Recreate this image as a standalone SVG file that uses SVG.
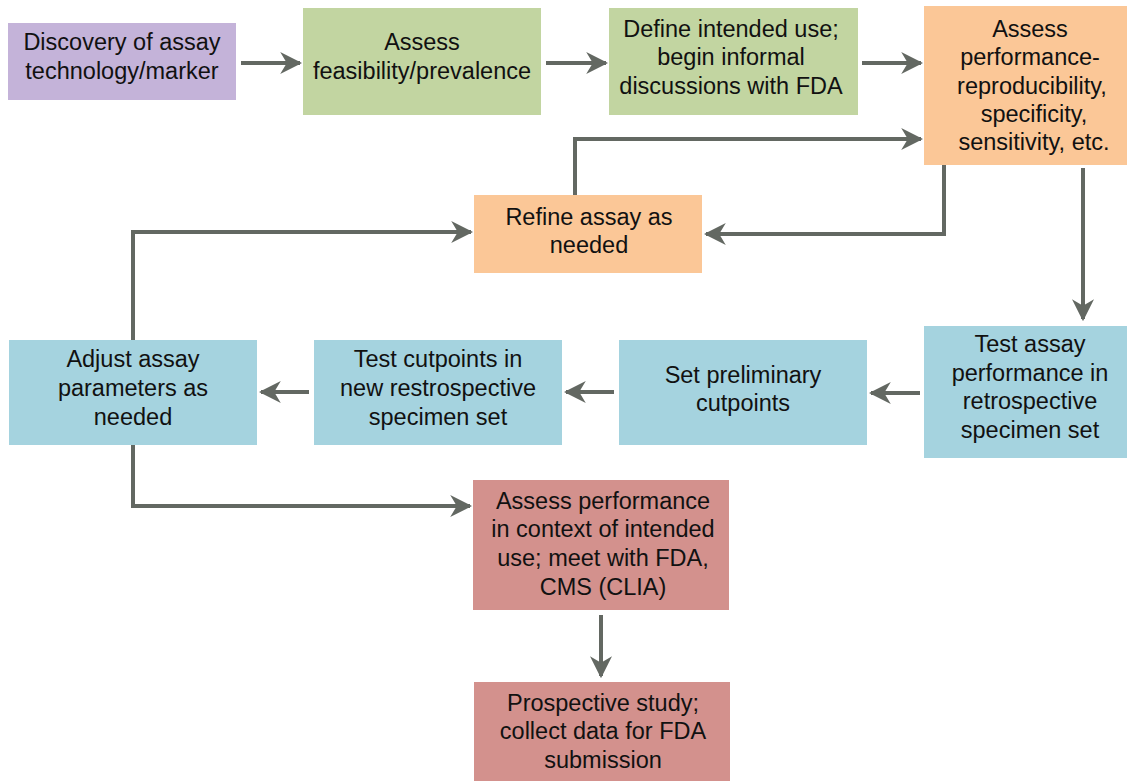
<svg xmlns="http://www.w3.org/2000/svg" width="1127" height="781" viewBox="0 0 1127 781">
<defs>
<style>
text{font-family:"Liberation Sans",Arial,sans-serif;font-size:23.5px;fill:#111;text-anchor:middle}
.c{fill:none;stroke:#636862;stroke-width:4}
.p{fill:#c4b3d9}.g{fill:#c2d5a1}.o{fill:#fbc797}.b{fill:#a5d3df}.r{fill:#d3918d}
</style>
<marker id="ah" viewBox="0 0 10 10" refX="9" refY="5" markerWidth="5.5" markerHeight="5.5" orient="auto" markerUnits="strokeWidth">
<path d="M0,0 L10,5 L0,10 L3,5 Z" fill="#636862"/>
</marker>
</defs>
<rect width="1127" height="781" fill="#fff"/>
<g id="connectors">
<path class="c" d="M241,63 H300" marker-end="url(#ah)"/>
<path class="c" d="M546,63 H606" marker-end="url(#ah)"/>
<path class="c" d="M862,63 H921" marker-end="url(#ah)"/>
<path class="c" d="M575,195 V139 H921" marker-end="url(#ah)"/>
<path class="c" d="M944,165 V234 H706" marker-end="url(#ah)"/>
<path class="c" d="M1083,168 V319" marker-end="url(#ah)"/>
<path class="c" d="M920,393 H871" marker-end="url(#ah)"/>
<path class="c" d="M614,392 H566" marker-end="url(#ah)"/>
<path class="c" d="M309,392 H261" marker-end="url(#ah)"/>
<path class="c" d="M133,340 V232 H471" marker-end="url(#ah)"/>
<path class="c" d="M133,445 V506 H470" marker-end="url(#ah)"/>
<path class="c" d="M601,615 V676" marker-end="url(#ah)"/>
</g>
<g id="n1"><rect class="p" x="8" y="23" width="228" height="77"/><text x="122" y="50">Discovery of assay</text><text x="122" y="79">technology/marker</text></g>
<g id="n2"><rect class="g" x="303" y="8" width="238" height="107"/><text x="422" y="50">Assess</text><text x="422" y="79">feasibility/prevalence</text></g>
<g id="n3"><rect class="g" x="609" y="8" width="249" height="107"/><text x="731" y="37">Define intended use;</text><text x="731" y="65">begin informal</text><text x="731" y="94">discussions with FDA</text></g>
<g id="n4"><rect class="o" x="924" y="6" width="203" height="159"/><text x="1030" y="37">Assess</text><text x="1030" y="65">performance-</text><text x="1032" y="94">reproducibility,</text><text x="1034" y="122">specificity,</text><text x="1034" y="150">sensitivity, etc.</text></g>
<g id="n5"><rect class="o" x="474" y="195" width="228" height="78"/><text x="589" y="225">Refine assay as</text><text x="589" y="253">needed</text></g>
<g id="n6"><rect class="b" x="924" y="326" width="203" height="132"/><text x="1030" y="352">Test assay</text><text x="1030" y="381">performance in</text><text x="1030" y="409">retrospective</text><text x="1030" y="438">specimen set</text></g>
<g id="n7"><rect class="b" x="619" y="340" width="248" height="105"/><text x="743" y="383">Set preliminary</text><text x="743" y="411">cutpoints</text></g>
<g id="n8"><rect class="b" x="314" y="340" width="248" height="105"/><text x="438" y="367">Test cutpoints in</text><text x="438" y="396">new restrospective</text><text x="438" y="425">specimen set</text></g>
<g id="n9"><rect class="b" x="9" y="340" width="248" height="105"/><text x="133" y="367">Adjust assay</text><text x="133" y="396">parameters as</text><text x="133" y="425">needed</text></g>
<g id="n10"><rect class="r" x="473" y="480" width="256" height="130"/><text x="603" y="509">Assess performance</text><text x="603" y="537">in context of intended</text><text x="603" y="566">use; meet with FDA,</text><text x="603" y="595">CMS (CLIA)</text></g>
<g id="n11"><rect class="r" x="474" y="682" width="256" height="99"/><text x="603" y="711">Prospective study;</text><text x="603" y="739">collect data for FDA</text><text x="603" y="768">submission</text></g>
</svg>
